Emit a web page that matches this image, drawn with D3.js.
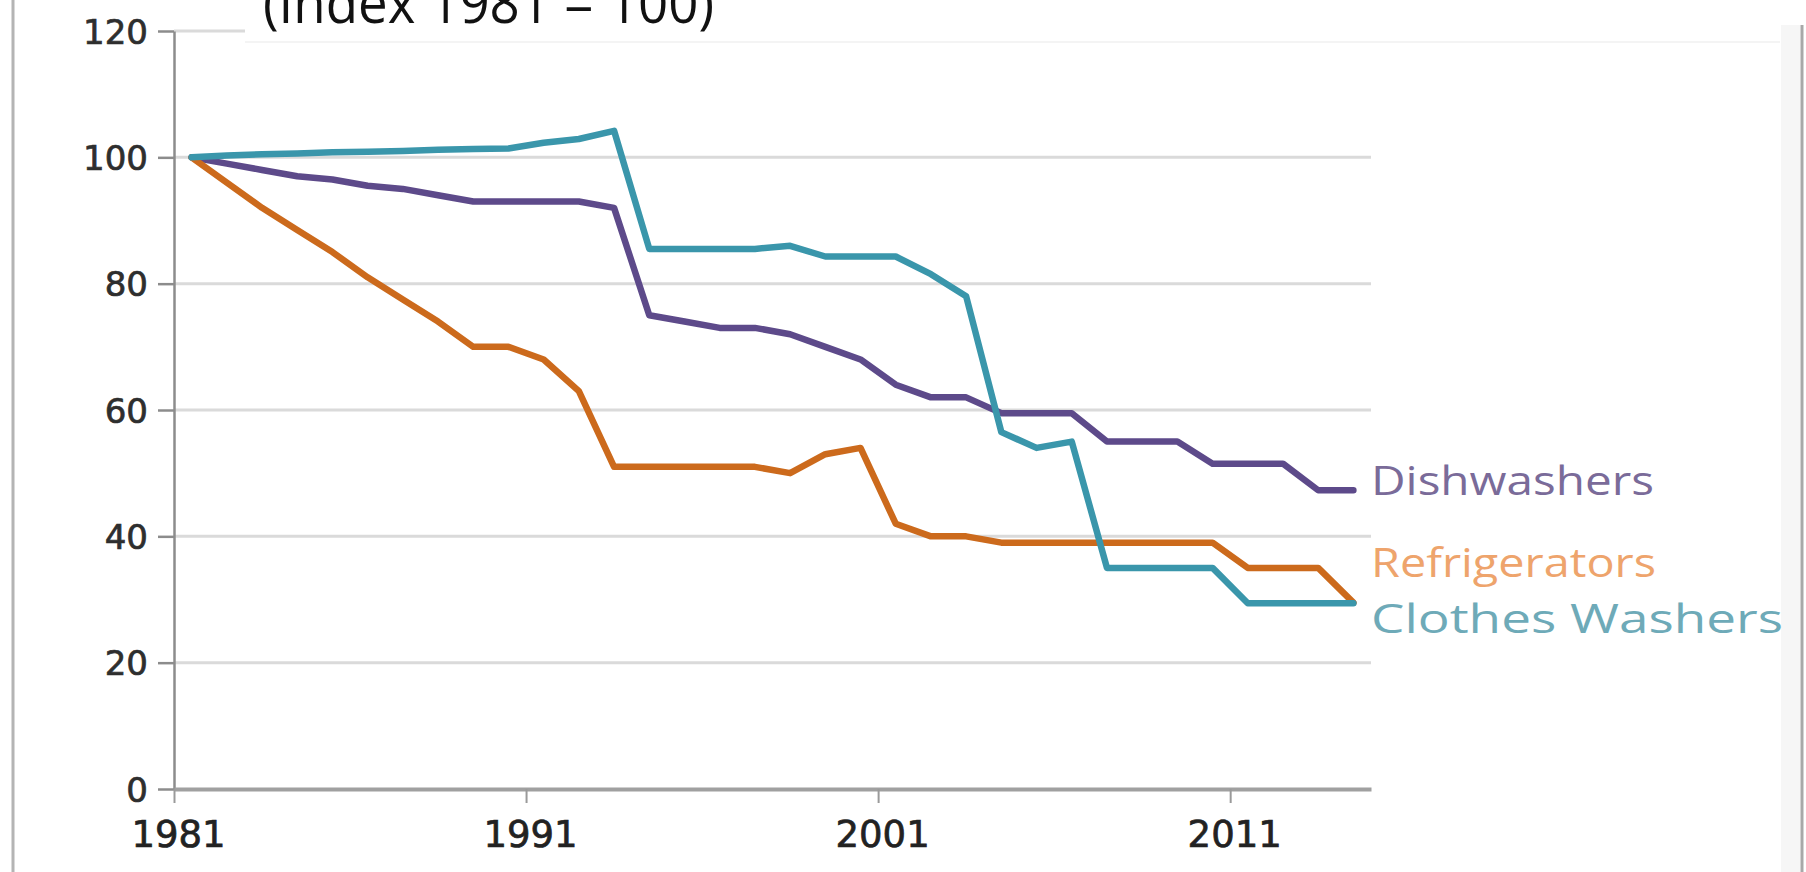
<!DOCTYPE html>
<html>
<head>
<meta charset="utf-8">
<script src="https://cdn.jsdelivr.net/npm/d3@7"></script>
<style>
  html, body { margin: 0; padding: 0; background: #fff; overflow: hidden; }
  svg { display: block; }
</style>
</head>
<body>
<svg id="chart" width="1806" height="872"></svg>
<script>
// Yearly categories and axis ticks
const years = [1981, 1982, 1983, 1984, 1985, 1986, 1987, 1988, 1989, 1990,
               1991, 1992, 1993, 1994, 1995, 1996, 1997, 1998, 1999, 2000,
               2001, 2002, 2003, 2004, 2005, 2006, 2007, 2008, 2009, 2010,
               2011, 2012, 2013, 2014];
const xTickYears = [1981, 1991, 2001, 2011];
const yTickValues = [0, 20, 40, 60, 80, 100, 120];

// Index values (1981 = 100)
const dishwashers = [100, 99, 98, 97, 96.5, 95.5, 95, 94, 93, 93,
                     93, 93, 92, 75, 74, 73, 73, 72, 70, 68,
                     64, 62, 62, 59.5, 59.5, 59.5, 55, 55, 55, 51.5,
                     51.5, 51.5, 47.3, 47.3];
const refrigerators = [100, 96, 92, 88.5, 85, 81, 77.5, 74, 70, 70,
                       68, 63, 51, 51, 51, 51, 51, 50, 53, 54,
                       42, 40, 40, 39, 39, 39, 39, 39, 39, 39,
                       35, 35, 35, 29.5];
const clothesWashers = [100, 100.3, 100.5, 100.6, 100.8, 100.9, 101, 101.2, 101.3, 101.4,
                        102.3, 102.9, 104.2, 85.5, 85.5, 85.5, 85.5, 86, 84.3, 84.3,
                        84.3, 81.5, 78, 56.5, 54, 55, 35, 35, 35, 35,
                        29.4, 29.4, 29.4, 29.4];

const seriesNames = ["Dishwashers", "Refrigerators", "Clothes Washers"];
const titleText = "(Index 1981 = 100)";

const series = [
  { name: seriesNames[0], values: dishwashers,    line: "#5d4a8a", label: "#7a6b99", dy: 5,   len: 283 },
  { name: seriesNames[1], values: refrigerators,  line: "#cc6a1c", label: "#eea46c", dy: -26, len: 285 },
  { name: seriesNames[2], values: clothesWashers, line: "#3a96ab", label: "#6eaab8", dy: 30,  len: 412 }
];

const W = 1806, H = 872;
const plotLeft = 174, plotRight = 1371, plotTop = 31, plotBottom = 789;

const svg = d3.select("#chart");
svg.append("rect").attr("width", W).attr("height", H).attr("fill", "#fff");

// Frame edges
svg.append("line").attr("x1", 13).attr("x2", 13).attr("y1", 0).attr("y2", H)
  .attr("stroke", "#b4b4b4").attr("stroke-width", 3);
svg.append("rect").attr("x", 1781).attr("y", 25).attr("width", 19).attr("height", H - 25)
  .attr("fill", "#f6f6f6");
svg.append("line").attr("x1", 1802).attr("x2", 1802).attr("y1", 25).attr("y2", H)
  .attr("stroke", "#a8a8a8").attr("stroke-width", 3);

// Scales
const x = d3.scaleBand().domain(years).range([plotLeft, plotRight]);
const xTick = d3.scaleLinear().domain([years[0], years[years.length - 1] + 1]).range([plotLeft, plotRight]);
const y = d3.scaleLinear().domain([0, 120]).range([plotBottom, plotTop]);
const cx = d => x(d) + x.bandwidth() / 2;

// Horizontal gridlines
svg.append("g").selectAll("line")
  .data(yTickValues.filter(v => v > 0))
  .join("line")
  .attr("x1", plotLeft).attr("x2", plotRight)
  .attr("y1", d => y(d)).attr("y2", d => y(d))
  .attr("stroke", "#dadada").attr("stroke-width", 3);

// Y axis
const yAxis = svg.append("g")
  .attr("transform", `translate(${plotLeft},0)`)
  .call(d3.axisLeft(y).tickValues(yTickValues).tickSize(16).tickSizeOuter(0).tickPadding(10));
yAxis.select(".domain").attr("stroke", "#8c8c8c").attr("stroke-width", 2.5);
yAxis.selectAll(".tick line").attr("stroke", "#8c8c8c").attr("stroke-width", 2.5);
yAxis.selectAll(".tick text")
  .attr("font-family", "'DejaVu Sans', Verdana, sans-serif")
  .attr("font-size", 34)
  .attr("fill", "#2e2e2e")
  .attr("stroke", "#2e2e2e")
  .attr("stroke-width", 0.7)
  .attr("dy", "0.36em");

// X axis
const xAxis = svg.append("g")
  .attr("transform", `translate(0,${plotBottom})`)
  .call(d3.axisBottom(xTick).tickValues(xTickYears).tickFormat(d3.format("d")).tickSize(14).tickSizeOuter(0));
xAxis.select(".domain").attr("stroke", "#a0a0a0").attr("stroke-width", 4);
xAxis.selectAll(".tick line").attr("stroke", "#9a9a9a").attr("stroke-width", 2);
xAxis.selectAll(".tick text")
  .attr("font-family", "'DejaVu Sans', Verdana, sans-serif")
  .attr("font-size", 37)
  .attr("fill", "#222")
  .attr("stroke", "#222")
  .attr("stroke-width", 0.7)
  .attr("dy", null)
  .attr("x", 4)
  .attr("y", 58);

// Series lines
const line = d3.line()
  .x((d, i) => cx(years[i]))
  .y(d => y(d));

svg.append("g").selectAll("path")
  .data(series)
  .join("path")
  .attr("d", s => line(s.values))
  .attr("fill", "none")
  .attr("stroke", s => s.line)
  .attr("stroke-width", 6.5)
  .attr("stroke-linejoin", "round")
  .attr("stroke-linecap", "round");

// End-of-line labels
svg.append("g").selectAll("text")
  .data(series)
  .join("text")
  .attr("x", plotRight)
  .attr("y", s => y(s.values[s.values.length - 1]) + s.dy)
  .attr("font-family", "'Open Sans', sans-serif")
  .attr("font-size", 40)
  .attr("fill", s => s.label)
  .attr("textLength", s => s.len)
  .attr("lengthAdjust", "spacingAndGlyphs")
  .text(s => s.name);

// Title panel across the top
svg.append("rect").attr("x", 245).attr("y", 0).attr("width", 1535).attr("height", 42)
  .attr("fill", "#fff");
svg.append("line").attr("x1", 245).attr("x2", 1780).attr("y1", 42).attr("y2", 42)
  .attr("stroke", "#f1f1f1").attr("stroke-width", 1.5);
svg.append("text")
  .attr("x", 263).attr("y", 23)
  .attr("font-family", "'Open Sans', sans-serif")
  .attr("font-size", 56)
  .attr("fill", "#111")
  .attr("textLength", 451)
  .attr("lengthAdjust", "spacingAndGlyphs")
  .text(titleText);
</script>
</body>
</html>
